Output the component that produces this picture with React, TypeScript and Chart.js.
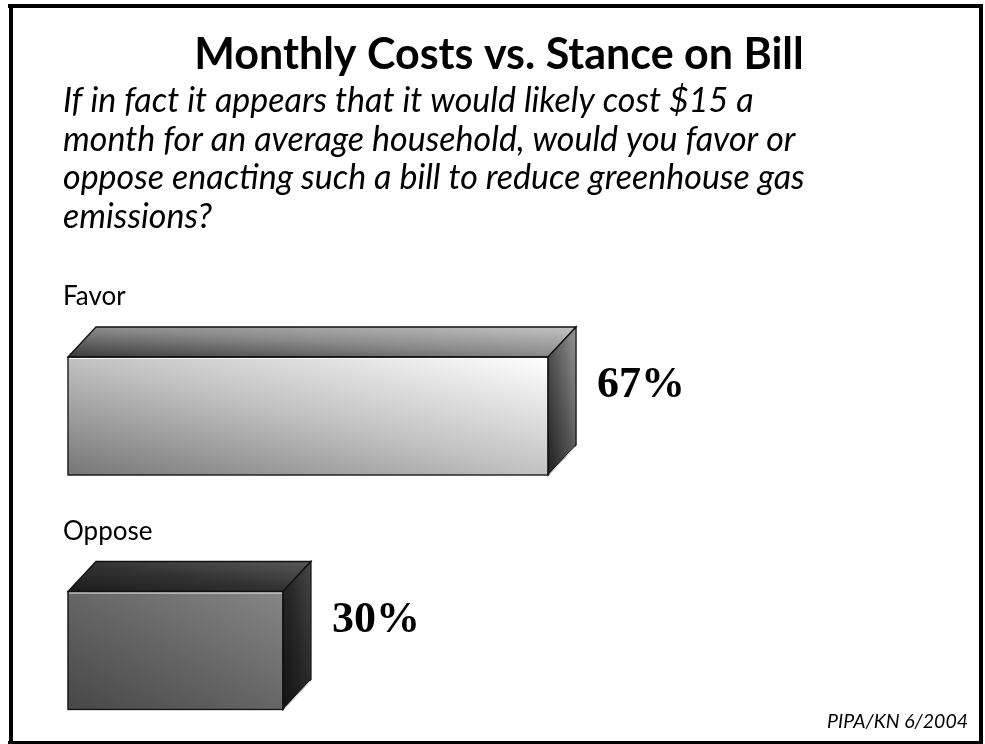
import React, { useEffect, useRef } from "react";
import { Chart, registerables } from "chart.js";

Chart.register(...registerables);

const TITLE = "Monthly Costs vs. Stance on Bill";
const QUESTION_LINES = [
  "If in fact it appears that it would likely cost $15 a",
  "month for an average household, would you favor or",
  "oppose enacting such a bill to reduce greenhouse gas",
  "emissions?",
];
const CATEGORIES = ["Favor", "Oppose"];
const VALUES = [67, 30];
const VALUE_LABELS = ["67%", "30%"];
const SOURCE = "PIPA/KN 6/2004";

const W = 985;
const H = 744;
const DX = 28;
const DY = 30;
const SANS = "Lato, 'Open Sans', sans-serif";

type Stop = [number, string];

// gradient whose iso-lines follow the box diagonal (bounding-box space)
function bboxGrad(ctx: CanvasRenderingContext2D, x: number, y: number, w: number, h: number, stops: Stop[]) {
  const L2 = w * w + h * h;
  const x0 = x, y0 = y + h;
  const x1 = x0 + (2 * w * h * h) / L2;
  const y1 = y0 - (2 * w * w * h) / L2;
  const g = ctx.createLinearGradient(x0, y0, x1, y1);
  stops.forEach(([o, c]) => g.addColorStop(o, c));
  return g;
}

const FRONT: Stop[][] = [
  [[0, "#767676"], [0.5, "#c2c2c2"], [1, "#ffffff"]],
  [[0, "#474747"], [0.5, "#666666"], [1, "#868686"]],
];
const TOP: Stop[][] = [
  [[0, "#3a3a3a"], [0.5, "#8a8a8a"], [1, "#c4c4c4"]],
  [[0, "#1c1c1c"], [0.5, "#333333"], [1, "#585858"]],
];
const SIDE: Stop[][] = [
  [[0, "#1e1e1e"], [0.5, "#555555"], [1, "#959595"]],
  [[0, "#121212"], [0.5, "#262626"], [1, "#474747"]],
];

const boxPlugin = {
  id: "box3d",
  afterDatasetsDraw(chart: any) {
    const ctx: CanvasRenderingContext2D = chart.ctx;
    const meta = chart.getDatasetMeta(0);
    meta.data.forEach((bar: any, i: number) => {
      const left = bar.base;
      const right = bar.x;
      const top = bar.y - bar.height / 2;
      const bottom = bar.y + bar.height / 2;
      const w = right - left;
      const h = bottom - top;
      if (![left, right, top, bottom].every(Number.isFinite)) return;
      ctx.save();
      ctx.lineJoin = "miter";
      ctx.strokeStyle = "#111111";
      ctx.lineWidth = 1.3;
      // top face
      ctx.beginPath();
      ctx.moveTo(left, top);
      ctx.lineTo(left + DX, top - DY);
      ctx.lineTo(right + DX, top - DY);
      ctx.lineTo(right, top);
      ctx.closePath();
      ctx.fillStyle = bboxGrad(ctx, left, top - DY, w + DX, DY, TOP[i]);
      ctx.fill();
      ctx.stroke();
      // right face
      ctx.beginPath();
      ctx.moveTo(right, top);
      ctx.lineTo(right + DX, top - DY);
      ctx.lineTo(right + DX, bottom - DY);
      ctx.lineTo(right, bottom);
      ctx.closePath();
      ctx.fillStyle = bboxGrad(ctx, right, top - DY, DX, h + DY, SIDE[i]);
      ctx.fill();
      ctx.stroke();
      // front outline
      ctx.strokeRect(left, top, w, h);
      // highlights
      ctx.strokeStyle = "rgba(255,255,255,0.85)";
      ctx.lineWidth = 1;
      ctx.beginPath();
      ctx.moveTo(left + 1, top + 1.5);
      ctx.lineTo(right - 1, top + 1.5);
      ctx.moveTo(right + 1.5, bottom - 1);
      ctx.lineTo(right + DX - 1, bottom - DY + 1.5);
      ctx.stroke();
      ctx.restore();
    });
  },
};

const textPlugin = {
  id: "texts",
  afterDraw(chart: any) {
    const ctx: CanvasRenderingContext2D = chart.ctx;
    ctx.save();
    // frame
    ctx.fillStyle = "#000";
    ctx.fillRect(8, 4, 975, 4);
    ctx.fillRect(9, 4, 4, 741);
    ctx.fillRect(979, 4, 4, 741);
    ctx.fillRect(8, 741, 975, 4);

    ctx.fillStyle = "#000";
    ctx.textBaseline = "alphabetic";
    ctx.textAlign = "center";
    ctx.font = `bold 43px ${SANS}`;
    ctx.fillText(TITLE, 499, 69);

    ctx.textAlign = "left";
    ctx.font = `italic 34px ${SANS}`;
    QUESTION_LINES.forEach((line, k) => ctx.fillText(line, 63, 112 + k * 38.7));

    const meta = chart.getDatasetMeta(0);
    const yScale = chart.scales.y;
    meta.data.forEach((bar: any, i: number) => {
      const cy = yScale.getPixelForValue(i);
      ctx.textAlign = "left";
      ctx.font = `26px ${SANS}`;
      ctx.fillText(CATEGORIES[i], 63, cy - bar.height / 2 - DY - 22);
      ctx.font = "bold 44px 'Liberation Serif', 'Times New Roman', serif";
      ctx.textBaseline = "middle";
      ctx.fillText(VALUE_LABELS[i], bar.x + DX + 21, cy - 30);
      ctx.textBaseline = "alphabetic";
    });

    ctx.textAlign = "right";
    ctx.font = `italic 19.5px ${SANS}`;
    ctx.fillText(SOURCE, 968, 728);
    ctx.restore();
  },
};

export default function App() {
  const ref = useRef<HTMLCanvasElement | null>(null);
  useEffect(() => {
    if (!ref.current) return;
    const chart = new Chart(ref.current, {
      type: "bar",
      data: {
        labels: CATEGORIES,
        datasets: [
          {
            data: VALUES,
            barThickness: 118,
            borderWidth: 0,
            clip: false as any,
            backgroundColor: (c: any) => {
              const ch = c.chart;
              const xs = ch.scales && ch.scales.x;
              const ys = ch.scales && ch.scales.y;
              const i = c.dataIndex;
              if (!xs || !ys || i === undefined || !ch.ctx) return "#999999";
              const l = xs.getPixelForValue(0);
              const r = xs.getPixelForValue(VALUES[i]);
              const cy = ys.getPixelForValue(i);
              if (![l, r, cy].every(Number.isFinite) || r - l <= 0) return "#999999";
              return bboxGrad(ch.ctx, l, cy - 59, r - l, 118, FRONT[i]);
            },
          },
        ],
      },
      options: {
        indexAxis: "y",
        responsive: false,
        animation: false,
        layout: { padding: { left: 68, right: 200.5, top: 416, bottom: 93.5 } },
        scales: {
          x: { min: 0, max: 100, display: false },
          y: { type: "category", offset: false, display: false },
        },
        plugins: {
          legend: { display: false },
          title: { display: false },
          tooltip: { enabled: false },
        },
      },
      plugins: [boxPlugin, textPlugin],
    });
    return () => chart.destroy();
  }, []);
  return (
    <div style={{ position: "fixed", left: 0, top: 0, width: W, height: H, background: "#fff" }}>
      <canvas ref={ref} width={W} height={H} style={{ display: "block" }} />
    </div>
  );
}
